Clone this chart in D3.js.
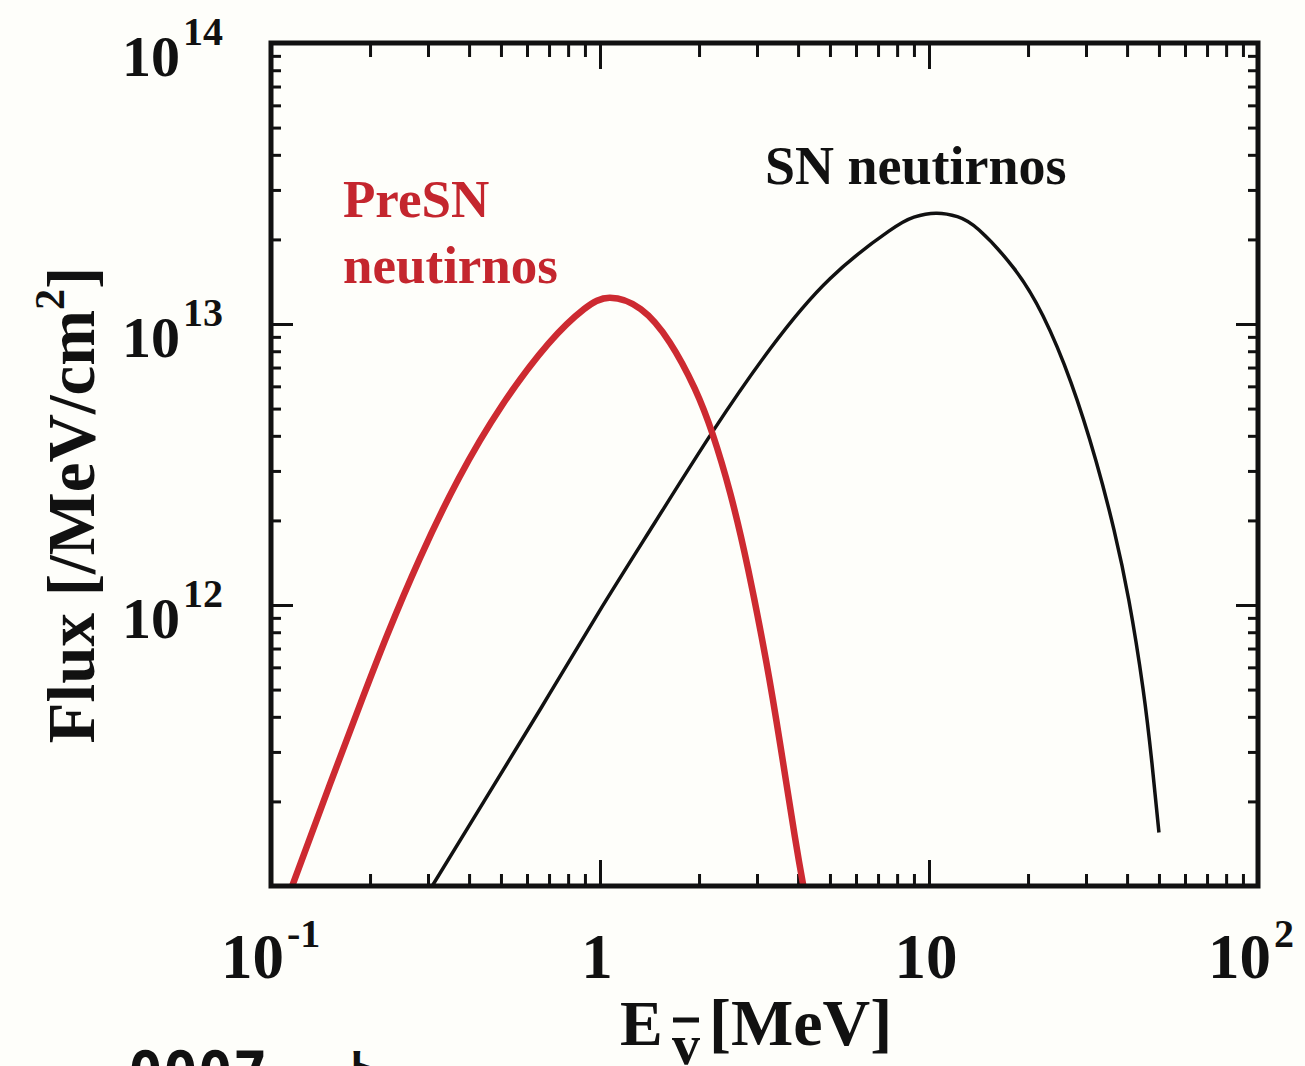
<!DOCTYPE html>
<html>
<head>
<meta charset="utf-8">
<script src="https://cdn.jsdelivr.net/npm/d3@7"></script>
<style>
  html, body { margin: 0; padding: 0; background: #fefefa; }
  svg { display: block; }
  text { font-family: "Liberation Serif", "Times New Roman", serif; font-weight: bold; }
</style>
</head>
<body>
<div id="wrapper"></div>
<script>
// values (E in MeV, flux in /MeV/cm^2)
const preEnergy = [0.116, 0.151, 0.190, 0.226, 0.283, 0.372, 0.503, 0.696, 0.894, 1.07,
                   1.33, 1.63, 1.94, 2.20, 2.49, 2.82, 3.20, 3.53, 3.91, 4.15];
const preFlux   = [1.0e11, 2.3e11, 4.68e11, 7.87e11, 1.46e12, 2.82e12, 5.12e12, 8.5e12, 1.13e13, 1.24e13,
                   1.13e13, 8.6e12, 5.9e12, 4.05e12, 2.49e12, 1.34e12, 6.3e11, 3.19e11, 1.5e11, 1.0e11];

const snEnergy = [0.309, 0.444, 0.662, 0.99, 1.47, 2.20, 3.30, 5.0, 7.55, 9.0, 10.5,
                  12.2, 14.2, 18.1, 22.2, 27.0, 32.2, 36.5, 40.5, 44.7, 47.6, 50.0];
const snFlux   = [1.0e11, 2.0e11, 4.3e11, 9.4e11, 1.97e12, 4.14e12, 8.2e12, 1.45e13, 2.14e13, 2.40e13, 2.48e13,
                  2.41e13, 2.16e13, 1.58e13, 1.07e13, 6.2e12, 3.25e12, 1.85e12, 1.04e12, 5.06e11, 2.74e11, 1.55e11];

const xDomain = [0.1, 100];
const yDomain = [1e11, 1e14];
const xLabels = [{v: 0.1, base: "10", sup: "-1"}, {v: 1, base: "1"}, {v: 10, base: "10"}, {v: 100, base: "10", sup: "2"}];
const yLabels = [{v: 1e12, sup: "12"}, {v: 1e13, sup: "13"}, {v: 1e14, sup: "14"}];

const width = 1305, height = 1066;
const margin = {top: 43, right: 47, bottom: 180, left: 271};
const plotW = width - margin.left - margin.right;
const plotH = height - margin.top - margin.bottom;

const x = d3.scaleLog().domain(xDomain).range([margin.left, margin.left + plotW]);
const y = d3.scaleLog().domain(yDomain).range([margin.top + plotH, margin.top]);

const svg = d3.select("#wrapper").append("svg")
   .attr("width", width)
   .attr("height", height);

svg.append("rect").attr("width", width).attr("height", height).attr("fill", "#fefefa");

svg.append("clipPath").attr("id", "plot")
 .append("rect")
   .attr("x", margin.left).attr("y", margin.top)
   .attr("width", plotW).attr("height", plotH);

// ticks: minor and major, drawn inward on all four sides
const isPow = v => Math.abs(Math.log10(v) - Math.round(Math.log10(v))) < 1e-9;
const xMinor = x.ticks().filter(v => !isPow(v));
const xMajor = x.ticks().filter(v => isPow(v) && v > xDomain[0] && v < xDomain[1]);
const yMinor = y.ticks().filter(v => !isPow(v));
const yMajor = y.ticks().filter(v => isPow(v) && v > yDomain[0] && v < yDomain[1]);

function tickAxis(axis, vals, size, tx, ty) {
   const g = svg.append("g")
      .attr("transform", `translate(${tx},${ty})`)
      .call(axis.tickValues(vals).tickSizeInner(size).tickSizeOuter(0).tickFormat(""));
   g.select(".domain").remove();
   g.selectAll(".tick line").attr("stroke", "#111").attr("stroke-width", 3);
}
const bottomY = margin.top + plotH, rightX = margin.left + plotW;
tickAxis(d3.axisBottom(x), xMinor, -12, 0, bottomY);
tickAxis(d3.axisBottom(x), xMajor, -26, 0, bottomY);
tickAxis(d3.axisTop(x), xMinor, -14, 0, margin.top);
tickAxis(d3.axisTop(x), xMajor, -26, 0, margin.top);
tickAxis(d3.axisLeft(y), yMinor, -10, margin.left, 0);
tickAxis(d3.axisLeft(y), yMajor, -22, margin.left, 0);
tickAxis(d3.axisRight(y), yMinor, -10, rightX, 0);
tickAxis(d3.axisRight(y), yMajor, -22, rightX, 0);

// curves
const line = d3.line()
   .x(d => x(d[0]))
   .y(d => y(d[1]))
   .curve(d3.curveNatural);

const curves = svg.append("g").attr("clip-path", "url(#plot)").attr("fill", "none");
curves.append("path")
   .attr("d", line(snEnergy.map((e, i) => [e, snFlux[i]])))
   .attr("stroke", "#111")
   .attr("stroke-width", 3.5);
curves.append("path")
   .attr("d", line(preEnergy.map((e, i) => [e, preFlux[i]])))
   .attr("stroke", "#cd2a31")
   .attr("stroke-width", 6.5);

// frame
svg.append("rect")
   .attr("x", margin.left).attr("y", margin.top)
   .attr("width", plotW).attr("height", plotH)
   .attr("fill", "none")
   .attr("stroke", "#111")
   .attr("stroke-width", 5);

// tick labels
yLabels.forEach(d => {
   svg.append("text")
      .attr("x", 180).attr("y", y(d.v) + 33)
      .attr("text-anchor", "end")
      .attr("font-size", 58)
      .attr("fill", "#111")
      .text("10");
   svg.append("text")
      .attr("x", 183).attr("y", y(d.v) + 2)
      .attr("font-size", 40)
      .attr("fill", "#111")
      .text(d.sup);
});

xLabels.forEach(d => {
   if (d.sup) {
      svg.append("text")
         .attr("x", x(d.v) + 13).attr("y", 978)
         .attr("text-anchor", "end")
         .attr("font-size", 63)
         .attr("fill", "#111")
         .text(d.base);
      svg.append("text")
         .attr("x", x(d.v) + 16).attr("y", 947)
         .attr("font-size", 40)
         .attr("fill", "#111")
         .text(d.sup);
   } else {
      svg.append("text")
         .attr("x", x(d.v) - 3).attr("y", 978)
         .attr("text-anchor", "middle")
         .attr("font-size", 63)
         .attr("fill", "#111")
         .text(d.base);
   }
});

// axis titles
const yTitle = svg.append("text")
   .attr("transform", "translate(94,505) rotate(-90)")
   .attr("text-anchor", "middle")
   .attr("font-size", 67)
   .attr("fill", "#111");
yTitle.append("tspan").text("Flux [/MeV/cm");
yTitle.append("tspan").attr("font-size", 42).attr("dy", -30).text("2");
yTitle.append("tspan").attr("dy", 30).text("]");

svg.append("text")
   .attr("x", 620).attr("y", 1045)
   .attr("font-size", 64)
   .attr("fill", "#111")
   .text("E");
svg.append("text")
   .attr("x", 672).attr("y", 1064)
   .attr("font-size", 56)
   .attr("fill", "#111")
   .text("v");
svg.append("line")
   .attr("x1", 673).attr("x2", 699)
   .attr("y1", 1020).attr("y2", 1020)
   .attr("stroke", "#111")
   .attr("stroke-width", 5);
svg.append("text")
   .attr("x", 709).attr("y", 1045)
   .attr("font-size", 66)
   .attr("fill", "#111")
   .text("[MeV]");

// curve annotations
svg.append("text")
   .attr("x", 343).attr("y", 217)
   .attr("font-size", 53)
   .attr("fill", "#c4262e")
   .text("PreSN");
svg.append("text")
   .attr("x", 343).attr("y", 283)
   .attr("font-size", 53)
   .attr("fill", "#c4262e")
   .text("neutirnos");
svg.append("text")
   .attr("x", 765).attr("y", 184)
   .attr("font-size", 54)
   .attr("fill", "#111")
   .text("SN neutirnos");

// text cut off at the lower edge of the picture
svg.append("text")
   .attr("x", 128).attr("y", 1093)
   .style("font-family", "'DejaVu Sans Mono', monospace")
   .attr("font-size", 58)
   .attr("fill", "#111")
   .text("0007");
svg.append("text")
   .attr("x", 340).attr("y", 1086)
   .style("font-family", "'Noto Sans CJK JP', sans-serif")
   .attr("font-size", 44)
   .attr("fill", "#111")
   .text("ト");
</script>
</body>
</html>
